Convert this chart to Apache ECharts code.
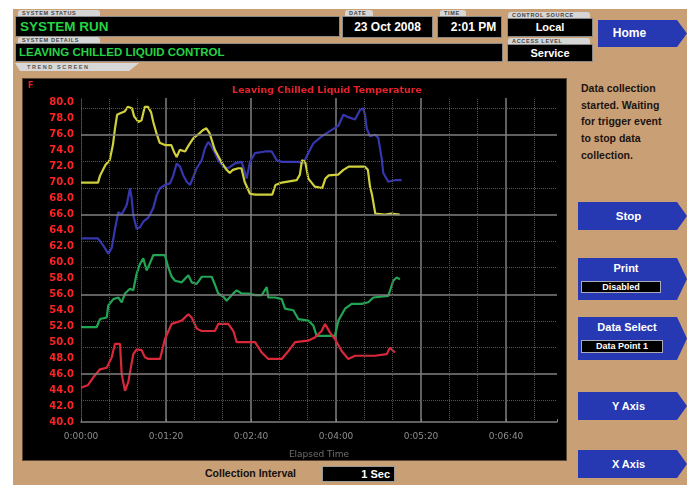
<!DOCTYPE html>
<html><head><meta charset="utf-8">
<script src="https://cdn.jsdelivr.net/npm/echarts@6/dist/echarts.min.js"></script>
<style>
html,body{margin:0;padding:0;background:#fff;}
#wrap{position:relative;width:687px;height:485px;overflow:hidden;font-family:"Liberation Sans",Arial,sans-serif;}
.a{position:absolute;box-sizing:border-box;white-space:nowrap;}
.blk{background:#000;border:1px solid #8a8a8a;}
.tab{background:#d6d6d6;color:#444;font-size:5.5px;font-weight:bold;letter-spacing:0.7px;line-height:6px;padding-left:4px;border-radius:3px 3px 0 0;}
.g{color:#25d345;font-weight:bold;}
.w{color:#fff;font-weight:bold;text-align:center;}
.btn{background:#2638b2;clip-path:polygon(0 0,calc(100% - 10px) 0,100% 50%,calc(100% - 10px) 100%,0 100%);color:#fff;font-weight:bold;font-size:11px;text-align:center;padding-right:8px;}
.inset{background:#000;color:#fff;font-weight:bold;font-size:9px;text-align:center;border:1px solid #aab;}
#chart{position:absolute;left:0;top:0;width:687px;height:485px;}
</style></head>
<body>
<div id="wrap">
  <div class="a" style="left:13px;top:9px;width:674px;height:476px;background:#c99f76;"></div>
  <!-- status bars -->
  <div class="a tab" style="left:18px;top:10px;width:82px;height:6px;">SYSTEM STATUS</div>
  <div class="a blk g" style="left:15px;top:16px;width:325px;height:21px;font-size:13.5px;line-height:19px;padding-left:4px;">SYSTEM RUN</div>
  <div class="a tab" style="left:18px;top:37px;width:82px;height:6px;">SYSTEM DETAILS</div>
  <div class="a blk g" style="left:15px;top:43px;width:488px;height:19px;font-size:11.5px;line-height:17px;padding-left:3px;">LEAVING CHILLED LIQUID CONTROL</div>
  <div class="a" style="left:15px;top:63px;width:124px;height:8px;background:#d8d8d8;color:#555;font-size:5.5px;font-weight:bold;letter-spacing:1.6px;line-height:8px;padding-left:12px;clip-path:polygon(0 0,100% 0,92% 100%,4% 100%);">TREND SCREEN</div>
  <div class="a tab" style="left:345px;top:10px;width:28px;height:6px;">DATE</div>
  <div class="a blk w" style="left:342px;top:16px;width:91px;height:22px;font-size:12px;line-height:20px;">23 Oct 2008</div>
  <div class="a tab" style="left:440px;top:10px;width:26px;height:6px;">TIME</div>
  <div class="a blk w" style="left:437px;top:16px;width:65px;height:22px;font-size:12px;line-height:20px;padding-left:8px;">2:01 PM</div>
  <div class="a tab" style="left:508px;top:12px;width:82px;height:6px;">CONTROL SOURCE</div>
  <div class="a blk w" style="left:507px;top:18px;width:86px;height:19px;font-size:11px;line-height:17px;">Local</div>
  <div class="a tab" style="left:508px;top:38px;width:82px;height:6px;">ACCESS LEVEL</div>
  <div class="a blk w" style="left:507px;top:44px;width:86px;height:18px;font-size:11px;line-height:16px;">Service</div>
  <div class="a btn" style="left:598px;top:20px;width:89px;height:27px;font-size:12px;line-height:27px;padding-right:26px;">Home</div>
  <!-- chart panel -->
  <div class="a" style="left:22px;top:78px;width:545px;height:383px;background:#000;border:1px solid #5a4630;"></div>
  <!-- right panel -->
  <div class="a" style="left:581px;top:80px;font-size:10.5px;font-weight:bold;line-height:16.7px;color:#1c1410;white-space:normal;width:104px;">Data collection<br>started. Waiting<br>for trigger event<br>to stop data<br>collection.</div>
  <div class="a btn" style="left:578px;top:202px;width:109px;height:28px;line-height:28px;font-size:11.5px;">Stop</div>
  <div class="a btn" style="left:578px;top:258px;width:109px;height:42px;">
    <div style="position:absolute;left:0;top:3px;width:96px;font-size:11px;line-height:14px;">Print</div>
    <div class="a inset" style="left:3px;top:23px;width:80px;height:12px;line-height:10px;">Disabled</div>
  </div>
  <div class="a btn" style="left:578px;top:317px;width:109px;height:43px;">
    <div style="position:absolute;left:0;top:3px;width:98px;font-size:11px;line-height:14px;">Data Select</div>
    <div class="a inset" style="left:3px;top:23px;width:82px;height:13px;line-height:11px;">Data Point 1</div>
  </div>
  <div class="a btn" style="left:578px;top:392px;width:109px;height:28px;line-height:28px;">Y Axis</div>
  <div class="a btn" style="left:578px;top:450px;width:109px;height:28px;line-height:28px;">X Axis</div>
  <!-- bottom -->
  <div class="a" style="left:205px;top:466px;font-size:10.5px;font-weight:bold;color:#15100c;line-height:15px;">Collection Interval</div>
  <div class="a" style="left:322px;top:466px;width:73px;height:16px;background:#000;border:1px solid #999;color:#fff;font-weight:bold;font-size:11px;line-height:14px;text-align:right;padding-right:4px;">1 Sec</div>
  <div id="chart"></div>
</div>
<script>
// ---- data (seconds elapsed, deg F) ----
const xTickLabels = ['0:00:00','0:01:20','0:02:40','0:04:00','0:05:20','0:06:40'];
const majorGridY = [46, 56, 66, 76];
const minorGridY = [42.67, 49.33, 52.67, 59.33, 62.67, 69.33, 72.67, 79.33];
const minorGridX = [26.67, 53.33, 106.67, 133.33, 186.67, 213.33, 266.67, 293.33, 346.67, 373.33, 426.67];

const yellowSeries = [[0,70],[16,70],[18,70.9],[23,72.2],[27,72.8],[30,74.7],[32,76.8],[34,78.5],[37,78.7],[41,78.9],[44,79.5],[48,79.3],[50,78.3],[54,77.6],[57,77.8],[60,79.5],[63,79.5],[66,78.8],[68,77.6],[71,76.2],[74,75],[79,74.7],[85,74.7],[88,73.7],[90,73.2],[93,74.1],[98,73.9],[101,74.6],[106,75.6],[110,76],[115,76.6],[118,76.8],[121,76.2],[126,74.1],[132,72.6],[137,71.6],[140,71.2],[143,71.6],[148,71.8],[151,71.8],[154,70.1],[159,68.6],[164,68.5],[180,68.5],[183,69.7],[189,70],[203,70.3],[206,71],[208,72.8],[211,72.6],[214,70.5],[220,69.5],[227,69.3],[230,70.5],[233,70.9],[242,71],[247,71.6],[252,72],[267,72],[270,71.6],[272,69.5],[274,68.4],[277,66.1],[286,66],[292,66.1],[300,66]];

const blueSeries = [[0,63],[16,63],[21,62.1],[25.7,61.1],[27.3,61.3],[28.9,61.8],[32,64.2],[35.1,66.3],[38.3,66],[43,67.2],[46.1,69.3],[47.7,68],[49.2,65.9],[52.4,64.2],[55.5,64.4],[58.6,65.1],[63.3,65.6],[68,66.8],[71.2,68.4],[74.4,69.3],[79,69.7],[83.8,69.9],[86.9,70.9],[90,72.4],[93.2,72],[96.3,70.9],[99.5,70.1],[102.6,69.7],[105.7,70.7],[108.9,71.8],[113.6,72.8],[116.7,74.3],[119.8,75.1],[123,74.5],[126.1,73.7],[129.2,72.8],[134,72],[138.6,71.8],[144.9,72.4],[151.2,72.6],[155.9,70.5],[159,72.6],[163.8,73.7],[173.2,73.9],[179.5,73.9],[184.2,72.8],[188.9,72.6],[204.5,72.6],[209.2,72.4],[213.9,73.7],[218.6,74.9],[226.5,75.8],[236,76.6],[242.2,77.1],[246.9,78.5],[251.6,78.2],[257.9,77.9],[262.6,79.1],[265.7,79.3],[267.3,78.5],[268.9,76.8],[272,75.8],[276.7,76],[279.8,75.6],[283,73],[284.5,71.2],[289.2,70.1],[295.5,70.3],[301.8,70.3]];

const greenSeries = [[0,51.9],[14.8,51.9],[17.9,52.9],[24.2,53.1],[25.7,54.6],[30.4,55.4],[35.1,55.6],[38.3,55],[41.4,56.1],[46.1,56.7],[49.2,56.5],[52.4,58.6],[55.5,59.8],[58.6,60.5],[61.8,59],[64.9,59.9],[68,60.9],[79,60.9],[82.1,59.4],[85.4,58.2],[88.5,57.7],[94.8,57.5],[101,58.4],[104.2,57.5],[108.9,57.3],[113.6,58.2],[123,58.2],[126.1,57.2],[129.2,56.1],[134,55.7],[137.1,55.2],[141.8,55.9],[146.5,56.5],[151.2,56.1],[157.5,56.1],[163.8,55.9],[170.1,55.9],[174.8,56.9],[176.3,55.6],[182.6,55.6],[188.9,55.4],[192,54.2],[199.8,54],[204.5,52.9],[213.9,52.7],[218.6,52.1],[221.8,50.8],[239,50.8],[242.2,52.7],[248.5,54.2],[254.8,54.8],[264.2,54.8],[270.4,55],[275.1,55.6],[289.2,55.8],[293.9,57.7],[297.1,58.1],[300.2,57.9]];

const redSeries = [[0,44.3],[6.3,44.6],[11.6,45.6],[17.9,46.6],[24.2,46.8],[28.9,48.1],[32,49.8],[36.7,49.8],[38.3,46],[41.4,43.9],[44.5,45],[49.2,48.5],[52.4,49.1],[57.1,49],[60.2,48.1],[63.4,47.9],[74.4,47.9],[79,50.4],[85.3,52.3],[94.8,52.7],[101,53.5],[104.2,53.1],[108.9,51.7],[113.6,51.4],[126.1,51.4],[129.2,52.3],[138.6,52.3],[143.4,51.4],[146.5,50],[163.8,50],[170.1,48.7],[176.3,47.9],[188.9,47.9],[195.2,48.9],[201.5,50],[214,50.2],[220.2,50.6],[226.5,51.4],[229.6,52.3],[234.4,51.2],[239,50.4],[245.3,48.9],[251.6,47.9],[257.9,48.3],[276.7,48.3],[287.7,48.5],[290.8,49.3],[295.5,48.7]];

const chart = echarts.init(document.getElementById('chart'), null, {renderer:'canvas'});
const lineSeries = (name, data, color) => ({
  name, type:'line', data, showSymbol:false, symbol:'none', smooth:false,
  lineStyle:{color, width:2.2}, itemStyle:{color}, z:3, silent:true
});
const gridMarks = [];
majorGridY.forEach(v => gridMarks.push({yAxis:v, lineStyle:{color:'#808080', width:1.5, type:'solid'}}));
minorGridY.forEach(v => gridMarks.push({yAxis:v, lineStyle:{color:'#555', width:1, type:'dotted'}}));
minorGridX.forEach(v => gridMarks.push({xAxis:v, lineStyle:{color:'#555', width:1, type:'dotted'}}));

chart.setOption({
  animation:false,
  backgroundColor:'transparent',
  title:{
    text:'Leaving Chilled Liquid Temperature', left:322, top:81, textAlign:'center',
    textStyle:{color:'#e8202a', fontSize:9.5, fontWeight:'bold', fontFamily:'DejaVu Sans'}
  },
  graphic:[{type:'text', left:28, top:82, style:{text:'F', fill:'#e8202a', font:'bold 8px DejaVu Sans'}}],
  grid:{left:81, right:130, top:98, bottom:63},
  xAxis:{
    type:'value', min:0, max:448, interval:80,
    name:'Elapsed Time', nameLocation:'middle', nameGap:28,
    nameTextStyle:{color:'#6e6e6e', fontSize:9, fontFamily:'DejaVu Sans'},
    axisLabel:{color:'#8c8c8c', fontSize:9, margin:10, fontFamily:'DejaVu Sans',
      formatter: v => (v % 80 === 0 ? xTickLabels[v / 80] : '')},
    axisLine:{show:true, lineStyle:{color:'#808080', width:1.5}},
    axisTick:{show:true, inside:true, length:3, lineStyle:{color:'#808080'}},
    splitLine:{show:true, showMinLine:false, showMaxLine:false, lineStyle:{color:'#808080', width:1.5}}
  },
  yAxis:{
    type:'value', min:40, max:80.6, interval:2,
    axisLabel:{color:'#ff2424', fontSize:10, fontWeight:'bold', fontFamily:'DejaVu Sans', margin:7,
      formatter: v => (Math.abs(v - Math.round(v)) < 1e-6 ? v.toFixed(1) : '')},
    axisLine:{show:true, lineStyle:{color:'#3f5a70', type:'dotted'}},
    axisTick:{show:false},
    splitLine:{show:false}
  },
  series:[
    {name:'grid', type:'line', data:[], z:1, silent:true,
     markLine:{silent:true, symbol:['none','none'], label:{show:false}, animation:false, data:gridMarks}},
    lineSeries('Blue', blueSeries, '#3636ae'),
    lineSeries('Yellow', yellowSeries, '#d0d03c'),
    lineSeries('Green', greenSeries, '#22a552'),
    lineSeries('Red', redSeries, '#d8283a')
  ]
});
</script>
</body></html>
